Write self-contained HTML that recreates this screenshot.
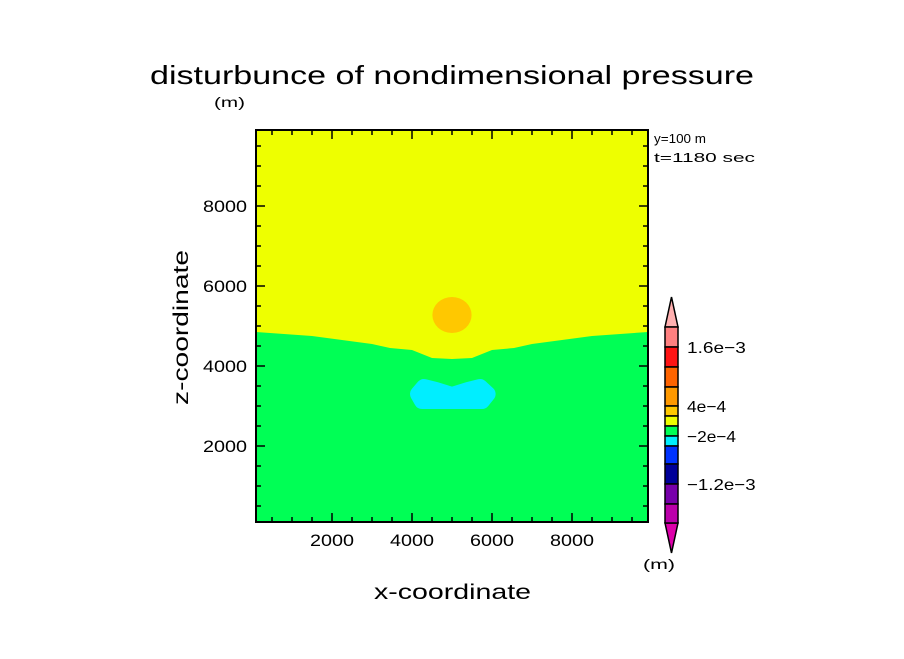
<!DOCTYPE html>
<html><head><meta charset="utf-8"><style>
body{margin:0;background:#fff;}
svg text{font-family:"Liberation Sans",sans-serif;fill:#000;}
</style></head><body>
<svg width="904" height="654" viewBox="0 0 904 654">
<text x="150" y="84" textLength="604" lengthAdjust="spacingAndGlyphs" font-size="26">disturbunce of nondimensional pressure</text>
<text x="214" y="107" textLength="31" lengthAdjust="spacingAndGlyphs" font-size="14">(m)</text>
<text x="654" y="143" textLength="52" lengthAdjust="spacingAndGlyphs" font-size="13">y=100 m</text>
<text x="654" y="162" textLength="101" lengthAdjust="spacingAndGlyphs" font-size="13">t=1180 sec</text>
<g id="field"></g>
<g id="axes"></g>
<g id="cbar"></g>
<text x="374" y="599" textLength="157" lengthAdjust="spacingAndGlyphs" font-size="21">x-coordinate</text>
<text transform="translate(188,405) rotate(-90)" textLength="155" lengthAdjust="spacingAndGlyphs" font-size="21">z-coordinate</text>
<text x="643" y="569" textLength="32" lengthAdjust="spacingAndGlyphs" font-size="14">(m)</text>
</svg>
<script>
const xTicks=[2000,4000,6000,8000];
const yTicks=[2000,4000,6000,8000];
const boundaryX=[100,1500,3000,3450,4000,4500,5000,5500,6000,6550,7000,8500,9900];
const boundaryZ=[4850,4750,4550,4450,4400,4200,4175,4200,4400,4450,4550,4750,4850];
const highCenter=[5000,5275];
const highRadius=[490,450];
const lowX=[4150,4300,4600,5000,5400,5700,5890,5750,5000,4250];
const lowZ=[3300,3475,3400,3275,3400,3475,3300,3125,3125,3125];
const cbColors=["#ff8080","#ff1414","#ff6400","#ff9900","#ffc800","#eeff00","#00ff55","#00eeff","#0033ff","#000099","#7700aa","#bb00aa"];
const cbLabels=[["1.6e-3",1],["4e-4",4],["-2e-4",7],["-1.2e-3",10]];
const X0=100,X1=9900,Z0=100,Z1=9900,L=256,R=648,T=130,B=522;
const sx=v=>L+(v-X0)/(X1-X0)*(R-L), sz=v=>B-(v-Z0)/(Z1-Z0)*(B-T);
const NS="http://www.w3.org/2000/svg";
function mk(t,a,p){const e=document.createElementNS(NS,t);for(const k in a)e.setAttribute(k,a[k]);p.appendChild(e);return e;}
const f=document.getElementById('field');
let r=mk('rect',{x:L,y:T,width:R-L,height:B-T,fill:'#eeff00'},f);


let d='M'+sx(X0)+','+B;boundaryX.forEach((x,i)=>d+=' L'+sx(x)+','+sz(boundaryZ[i]));d+=' L'+sx(X1)+','+B+'Z';
let g=mk('path',{d:d,fill:'#00ff55'},f);


let c=mk('ellipse',{cx:sx(highCenter[0]),cy:sz(highCenter[1]),rx:highRadius[0]/25,ry:highRadius[1]/25,fill:'#ffc800'},f);


let d2='';lowX.forEach((x,i)=>d2+=(i?' L':'M')+sx(x)+','+sz(lowZ[i]));
let lw=mk('path',{d:d2+'Z',fill:'#00eeff',stroke:'#00eeff','stroke-width':16,'stroke-linejoin':'round'},f);


const a=document.getElementById('axes');
mk('rect',{x:L,y:T,width:R-L,height:B-T,fill:'none',stroke:'#000','stroke-width':2},a);
for(let v=500;v<=9500;v+=500){const big=v%2000==0;const len=big?9:5;
 mk('line',{x1:sx(v),x2:sx(v),y1:B,y2:B-len,stroke:'#000','stroke-width':1.5},a);
 mk('line',{x1:sx(v),x2:sx(v),y1:T,y2:T+len,stroke:'#000','stroke-width':1.5},a);
 mk('line',{x1:L,x2:L+len,y1:sz(v),y2:sz(v),stroke:'#000','stroke-width':1.5},a);
 mk('line',{x1:R,x2:R-len,y1:sz(v),y2:sz(v),stroke:'#000','stroke-width':1.5},a);}
xTicks.forEach(v=>{const t=mk('text',{x:sx(v)-22,y:B+24,textLength:44,lengthAdjust:'spacingAndGlyphs','font-size':17},a);t.textContent=v;

});
yTicks.forEach(v=>{const t=mk('text',{x:L-53,y:sz(v)+6,textLength:44,lengthAdjust:'spacingAndGlyphs','font-size':17},a);t.textContent=v;

});
const cb=document.getElementById('cbar');
const cbEdges=[327,347,367,387,406,416,426,436,446,464,484,504,523];
const cx0=665,cx1=678;
mk('polygon',{points:`${cx0},${cbEdges[0]} ${(cx0+cx1)/2},297 ${cx1},${cbEdges[0]}`,fill:'#ffb0b0',stroke:'#000','stroke-width':1.5},cb);
mk('polygon',{points:`${cx0},523 ${(cx0+cx1)/2},553 ${cx1},523`,fill:'#dd00aa',stroke:'#000','stroke-width':1.5},cb);
cbColors.forEach((col,i)=>{const s=mk('rect',{x:cx0,y:cbEdges[i],width:cx1-cx0,height:cbEdges[i+1]-cbEdges[i],fill:col,stroke:'#000','stroke-width':1.5},cb);

});
cbLabels.forEach(([lab,i])=>{const t=mk('text',{x:687,y:cbEdges[i]+6,textLength:lab.length*9.8,lengthAdjust:'spacingAndGlyphs','font-size':16},cb);t.textContent=lab.split('-').join('−');

});
</script>
</body></html>
